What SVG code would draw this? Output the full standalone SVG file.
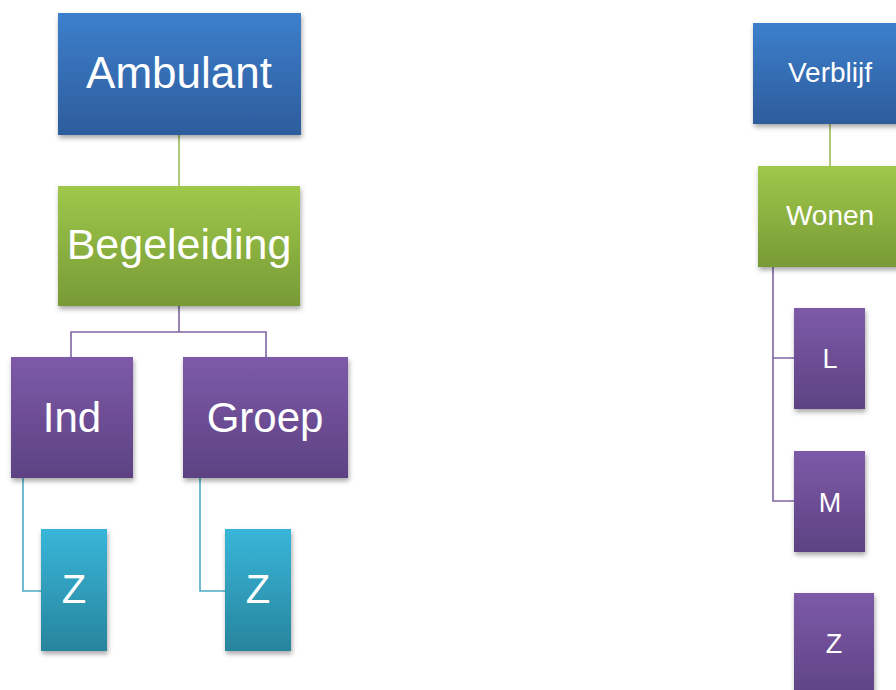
<svg xmlns="http://www.w3.org/2000/svg" width="896" height="690" viewBox="0 0 896 690">
<defs>
<linearGradient id="gBlue" x1="0" y1="0" x2="0" y2="1"><stop offset="0" stop-color="#3d7fcc"/><stop offset="1" stop-color="#2d5c9c"/></linearGradient>
<linearGradient id="gGreen" x1="0" y1="0" x2="0" y2="1"><stop offset="0" stop-color="#9fc84b"/><stop offset="1" stop-color="#789a36"/></linearGradient>
<linearGradient id="gPurple" x1="0" y1="0" x2="0" y2="1"><stop offset="0" stop-color="#7d5aa8"/><stop offset="1" stop-color="#5d4283"/></linearGradient>
<linearGradient id="gCyan" x1="0" y1="0" x2="0" y2="1"><stop offset="0" stop-color="#38b6da"/><stop offset="1" stop-color="#28849d"/></linearGradient>
<filter id="sh" x="-20%" y="-20%" width="140%" height="140%"><feDropShadow dx="1" dy="3" stdDeviation="2.5" flood-color="#000" flood-opacity="0.35"/></filter>
</defs>
<style>
text{font-family:"Liberation Sans",Arial,sans-serif;fill:#fff;text-anchor:middle}
.box{filter:url(#sh)}
.b{fill:url(#gBlue)} .g{fill:url(#gGreen)} .p{fill:url(#gPurple)} .c{fill:url(#gCyan)}
.ln{fill:none;stroke-width:1.6}
.lg{stroke:#9bbb59} .lp{stroke:#8064a2} .lc{stroke:#4bacc6}
</style>
<rect width="896" height="690" fill="#fff"/>
<g id="connectors">
<path class="ln lg" d="M179 135V186"/>
<path class="ln lp" d="M179 306V332M71 357V332H266V357"/>
<path class="ln lc" d="M23 478V591H41"/>
<path class="ln lc" d="M200 478V591H225"/>
<path class="ln lg" d="M830 124V166"/>
<path class="ln lp" d="M773 267V501H794M773 358H794"/>
</g>
<g id="ambulant"><rect class="box b" x="58" y="13" width="243" height="122"/><text x="179" y="88" font-size="44">Ambulant</text></g>
<g id="begeleiding"><rect class="box g" x="58" y="186" width="242" height="120"/><text x="179" y="259" font-size="43">Begeleiding</text></g>
<g id="ind"><rect class="box p" x="11" y="357" width="122" height="121"/><text x="72" y="432" font-size="42">Ind</text></g>
<g id="groep"><rect class="box p" x="183" y="357" width="165" height="121"/><text x="265" y="432" font-size="42">Groep</text></g>
<g id="z1"><rect class="box c" x="41" y="529" width="66" height="122"/><text x="74" y="603" font-size="40">Z</text></g>
<g id="z2"><rect class="box c" x="225" y="529" width="66" height="122"/><text x="258" y="603" font-size="40">Z</text></g>
<g id="verblijf"><rect class="box b" x="753" y="23" width="155" height="101"/><text x="830" y="82" font-size="28">Verblijf</text></g>
<g id="wonen"><rect class="box g" x="758" y="166" width="145" height="101"/><text x="830" y="225" font-size="28">Wonen</text></g>
<g id="l"><rect class="box p" x="794" y="308" width="71" height="101"/><text x="830" y="368" font-size="27">L</text></g>
<g id="m"><rect class="box p" x="794" y="451" width="71" height="101"/><text x="830" y="512" font-size="27">M</text></g>
<g id="z3"><rect class="box p" x="794" y="593" width="80" height="110"/><text x="834" y="653" font-size="27">Z</text></g>
</svg>
